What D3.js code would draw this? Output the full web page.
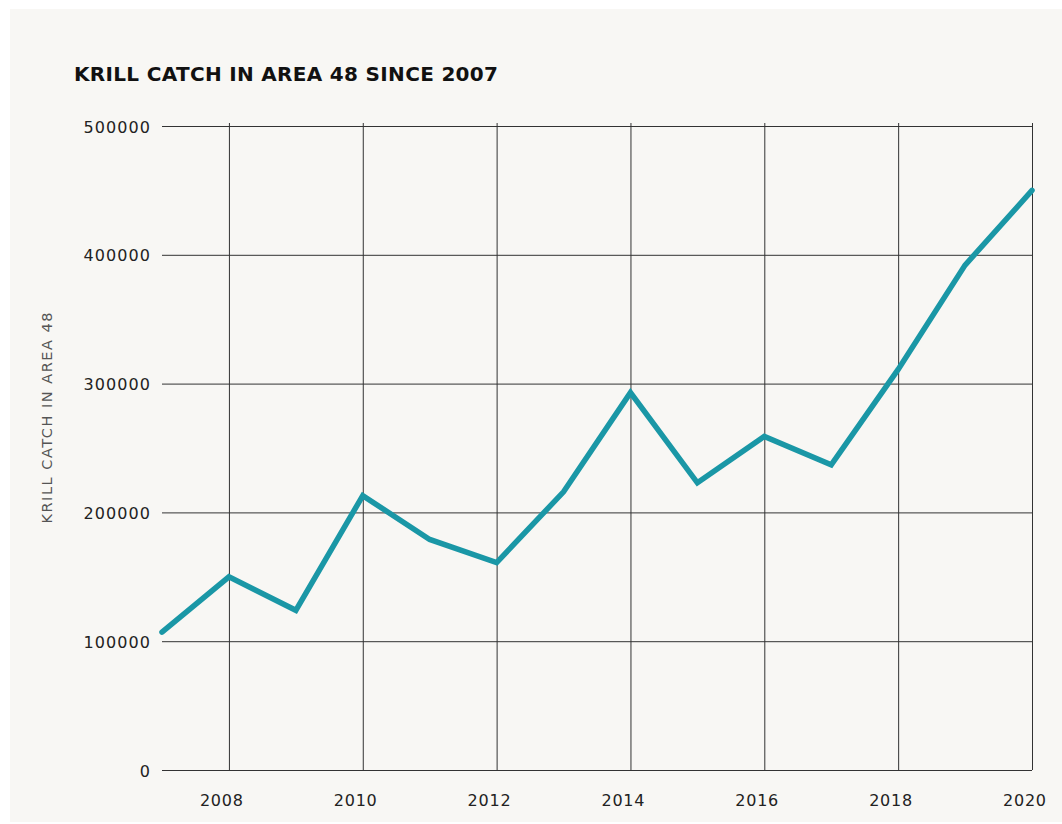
<!DOCTYPE html>
<html>
<head>
<meta charset="utf-8">
<script src="https://cdn.jsdelivr.net/npm/d3@7"></script>
<style>
  html, body { margin: 0; padding: 0; background: #ffffff; }
  svg { display: block; }
</style>
</head>
<body>
<div class="customChart"></div>
<script>
// krill catch per season
const years = [2007, 2008, 2009, 2010, 2011, 2012, 2013, 2014, 2015, 2016, 2017, 2018, 2019, 2020];
const catches = [107000, 150000, 124000, 213000, 179000, 161000, 216000, 293000, 223000, 259000, 237000, 311000, 392000, 450000];
const xTicks = [2008, 2010, 2012, 2014, 2016, 2018, 2020];
const yTicks = [0, 100000, 200000, 300000, 400000, 500000];

const data = years.map((y, i) => ({year: y, catch: catches[i]}));

const W = 1062, H = 824;
const margin = ({top: 126, right: 30, bottom: 54, left: 162});
const width = W - margin.left - margin.right;
const height = H - margin.top - margin.bottom;
const font = '"DejaVu Sans", Verdana, sans-serif';

const root = d3.select('.customChart')
	.append('svg')
	.attr('width', W)
	.attr('height', H);

// background panel
root.append('rect')
	.attr('x', 10)
	.attr('y', 9)
	.attr('width', W - 10)
	.attr('height', H - 11)
	.attr('fill', '#f8f7f4');

root.append('text')
	.attr('x', 74)
	.attr('y', 81)
	.attr('font-family', font)
	.attr('font-weight', 'bold')
	.attr('font-size', 20)
	.attr('fill', '#111')
	.attr('textLength', 424)
	.text('KRILL CATCH IN AREA 48 SINCE 2007');

const svg = root.append('g')
	.attr('transform', `translate(${margin.left},${margin.top})`);

const xScale = d3.scaleLinear()
	.domain([2007, 2020])
	.range([0, width]);

const yScale = d3.scaleLinear()
	.domain([0, 500000])
	.range([height, 0]);

// horizontal grid + y labels
const yAxis = d3.axisLeft(yScale)
	.tickValues(yTicks)
	.tickFormat(d3.format('d'))
	.tickSize(-width)
	.tickPadding(12);

const leftAxis = svg.append('g')
	.attr('class', 'axis y-axis')
	.call(yAxis);

leftAxis.select('.domain').remove();
leftAxis.selectAll('.tick line')
	.attr('stroke', '#333')
	.attr('stroke-width', 1);
leftAxis.selectAll('.tick text')
	.attr('font-family', font)
	.attr('font-size', 16)
	.attr('fill', '#222')
	.attr('dy', '0.38em')
	.attr('textLength', d => String(d).length * 11.1);

// vertical grid + x labels
const xAxis = d3.axisBottom(xScale)
	.tickValues(xTicks)
	.tickFormat(d3.format('d'))
	.tickSize(0)
	.tickPadding(25);

const bottomAxis = svg.append('g')
	.attr('class', 'axis x-axis')
	.attr('transform', `translate(0,${height})`)
	.call(xAxis);

bottomAxis.select('.domain').remove();
bottomAxis.selectAll('.tick line')
	.attr('y2', -height - 3)
	.attr('stroke', '#333')
	.attr('stroke-width', 1);
bottomAxis.selectAll('.tick text')
	.attr('font-family', font)
	.attr('font-size', 16)
	.attr('fill', '#222')
	.attr('x', -8)
	.attr('textLength', 43);

// y axis title
root.append('text')
	.attr('transform', `translate(52,${418}) rotate(-90)`)
	.attr('text-anchor', 'middle')
	.attr('font-family', font)
	.attr('font-size', 14.5)
	.attr('fill', '#555')
	.attr('textLength', 211)
	.text('KRILL CATCH IN AREA 48');

const line = d3.line()
	.x(d => xScale(d.year))
	.y(d => yScale(d.catch));

svg.append('path')
	.datum(data)
	.attr('fill', 'none')
	.attr('stroke', '#1a97a6')
	.attr('stroke-width', 5.5)
	.attr('stroke-linecap', 'round')
	.attr('stroke-linejoin', 'miter')
	.attr('d', line);
</script>
</body>
</html>
